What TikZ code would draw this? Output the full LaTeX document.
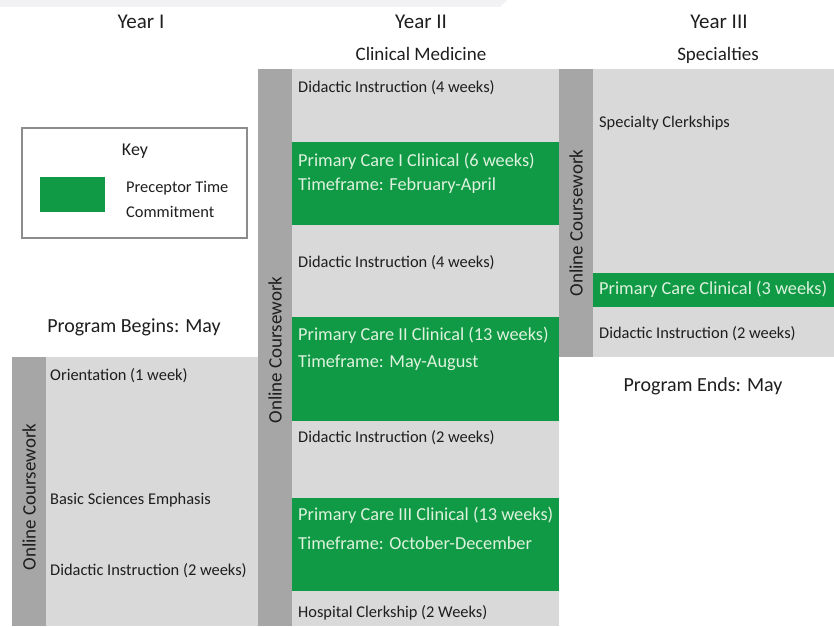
\documentclass[tikz,border=0pt]{standalone}
\usepackage{fontspec}
\setmainfont{Carlito}
\usetikzlibrary{positioning}
\definecolor{pgreen}{RGB}{16,154,70}
\definecolor{lgray}{RGB}{217,217,217}
\definecolor{dgray}{RGB}{166,166,166}
\definecolor{ink}{RGB}{30,30,30}
\definecolor{pale}{RGB}{222,242,222}
\definecolor{stripe}{RGB}{242,242,244}
\tikzset{
  bar/.style={fill=dgray},
  body/.style={fill=lgray},
  preceptor/.style={fill=pgreen},
  keyframe/.style={draw=gray!90, line width=1.6pt},
  yeartitle/.style={text=ink, inner sep=0pt, font=\fontsize{21}{25}\selectfont},
  subtitle/.style={text=ink, inner sep=0pt, font=\fontsize{19}{23}\selectfont},
  online/.style={rotate=90, text=ink, inner sep=0pt, font=\fontsize{19}{23}\selectfont},
  item/.style={anchor=west, text=ink, inner sep=0pt, font=\fontsize{16.4}{19}\selectfont},
  clin/.style={anchor=west, text=pale, inner sep=0pt, font=\fontsize{18.3}{22}\selectfont},
  note/.style={text=ink, inner sep=0pt, font=\fontsize{20}{24}\selectfont}
}

\begin{document}
\begin{tikzpicture}[x=1pt,y=-1pt]
\useasboundingbox (0,0) rectangle (834,626);
% faint strip along the top edge
\fill[stripe] (0,0) -- (507,0) -- (500,7) -- (0,7) -- cycle;

% columns: coursework bar + body
\fill[bar] (12,357) rectangle (46,626);
\fill[body] (46,357) rectangle (258,626);
\fill[bar] (258,69) rectangle (292,626);
\fill[body] (292,69) rectangle (559,626);
\fill[bar] (559,69) rectangle (593,357);
\fill[body] (593,69) rectangle (834,357);

% preceptor time blocks
\foreach \ya/\yb in {142/225,317/421,498/591}
  \fill[preceptor] (292,\ya) rectangle (559,\yb);
\fill[preceptor] (593,273) rectangle (834,307);

% headings
\node[yeartitle] (yrI) at (141,22) {Year I};
\node[yeartitle] (yrII) at (421,22) {Year II};
\node[yeartitle] (yrIII) at (719,22) {Year III};
\node[subtitle] (clinmed) at (421,54) {Clinical Medicine};
\node[subtitle] (spec) at (718,55) {Specialties};

% key
\draw[keyframe] (22,128) rectangle (247,238);
\fill[preceptor] (40,177) rectangle (105,212);
\node[note, font=\fontsize{18}{22}\selectfont] (key) at (135,151) {Key};
\node[item] (prec) at (126,188) {Preceptor Time};
\node[item] (commit) at (126,212) {Commitment};

\node[note] (begins) at (134,327) {Program Begins: May};
\node[note] (ends) at (703,386) {Program Ends: May};

% online coursework bars
\node[online] (ocI) at (29,497) {Online Coursework};
\node[online] (ocII) at (275,350) {Online Coursework};
\node[online] (ocIII) at (576,223) {Online Coursework};

% year I
\node[item] (orient) at (50,376) {Orientation (1 week)};
\node[item] (basic) at (50,500) {Basic Sciences Emphasis};
\node[item] (didI) at (50,571) {Didactic Instruction (2 weeks)};

% year II
\node[item] (didIIa) at (298,88) {Didactic Instruction (4 weeks)};
\node[clin] (pcI) at (298,161) {Primary Care I Clinical (6 weeks)};
\node[clin] (pcIt) at (298,186) {Timeframe: February-April};
\node[item] (didIIb) at (298,263) {Didactic Instruction (4 weeks)};
\node[clin] (pcII) at (298,335) {Primary Care II Clinical (13 weeks)};
\node[clin] (pcIIt) at (298,363) {Timeframe: May-August};
\node[item] (didIIc) at (298,438) {Didactic Instruction (2 weeks)};
\node[clin] (pcIII) at (298,515) {Primary Care III Clinical (13 weeks)};
\node[clin] (pcIIIt) at (298,543) {Timeframe: October-December};
\node[item] (hosp) at (298,613) {Hospital Clerkship (2 Weeks)};

% year III
\node[item] (clerk) at (599,123) {Specialty Clerkships};
\node[clin] (pcIV) at (599,289) {Primary Care Clinical (3 weeks)};
\node[item] (didIII) at (599,334) {Didactic Instruction (2 weeks)};
\end{tikzpicture}
\end{document}
